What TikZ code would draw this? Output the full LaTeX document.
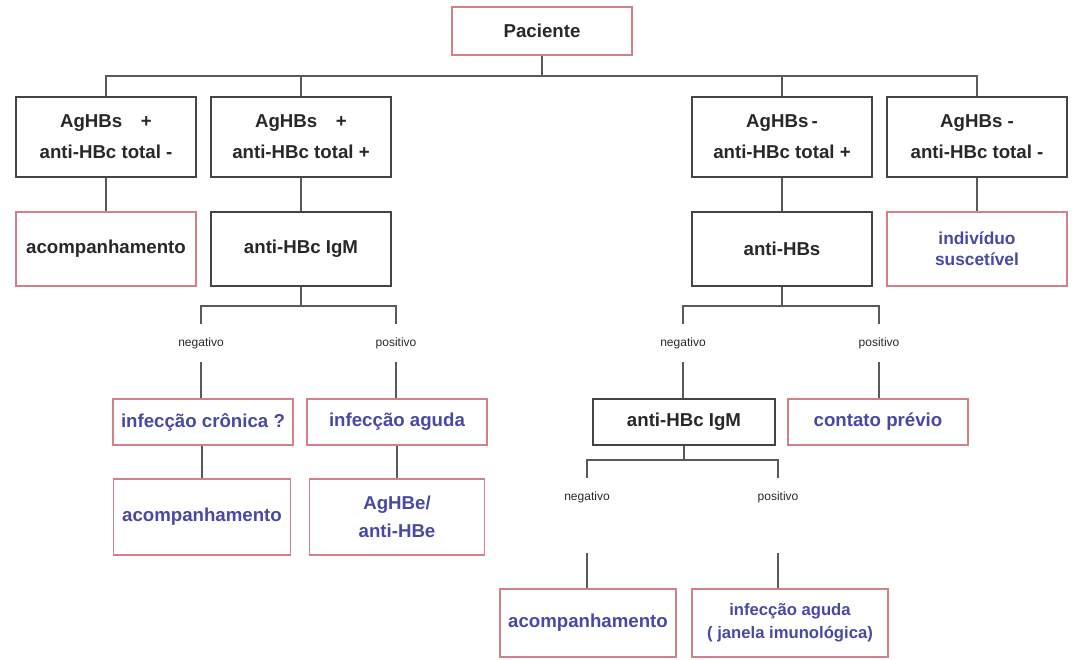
\documentclass[tikz,border=0pt]{standalone}
\usepackage{fontspec}
\setmainfont{Liberation Sans}
\usetikzlibrary{positioning}
\definecolor{boxred}{RGB}{212,128,138}
\definecolor{boxgray}{RGB}{68,68,68}
\definecolor{linegray}{RGB}{90,90,90}
\definecolor{textgray}{RGB}{40,40,40}
\definecolor{textblue}{RGB}{72,72,165}

\begin{document}
\begin{tikzpicture}[
x=0.75pt, y=-0.75pt,
box/.style={draw=boxgray, line width=1.1pt, align=center, minimum width=135pt, minimum height=55.5pt, inner sep=2pt, text=textgray, font=\bfseries\fontsize{14}{17}\selectfont},
redbox/.style={box, draw=boxred},
result/.style={redbox, text=textblue},
tag/.style={minimum height=28.5pt, inner sep=0pt, text=textgray, font=\fontsize{9}{10}\selectfont},
line/.style={draw=linegray, line width=1.1pt}
]
\useasboundingbox (0,0) rectangle (1075,660);

% patient and first split
\node[redbox, minimum height=36pt] (pac) at (542,31) {Paciente};
\coordinate (bus) at (542,76);
\node[box, minimum height=60pt] (agpos1) at (106,137) {AgHBs\quad+\\[6pt]anti-HBc total -};
\node[box, minimum height=60pt] (agpos2) at (301,137) {AgHBs\quad+\\[6pt]anti-HBc total +};
\node[box, minimum height=60pt] (agneg1) at (782,137) {AgHBs\,-\\[6pt]anti-HBc total +};
\node[box, minimum height=60pt] (agneg2) at (977,137) {AgHBs -\\[6pt]anti-HBc total -};

% second level
\node[redbox] (acomp1) at (106,249) {acompanhamento};
\node[box] (igm1) at (301,249) {anti-HBc IgM};
\node[box] (hbs) at (782,249) {anti-HBs};
\node[result, font=\bfseries\fontsize{13}{16}\selectfont] (susc) at (977,249) {indivíduo\\suscetível};

% test results
\node[tag] (neg1) at (201,343) {negativo};
\node[tag] (pos1) at (396,343) {positivo};
\node[tag] (neg2) at (683,343) {negativo};
\node[tag] (pos2) at (879,343) {positivo};

\node[result, minimum height=34.5pt] (cron) at (203,422) {infecção crônica ?};
\node[result, minimum height=34.5pt] (aguda1) at (397,422) {infecção aguda};
\node[box, minimum height=34.5pt, minimum width=136.5pt] (igm2) at (684,422) {anti-HBc IgM};
\node[result, minimum height=34.5pt] (prev) at (878,422) {contato prévio};

\node[result, minimum height=57pt, minimum width=132.75pt] (acomp2) at (202,517) {acompanhamento};
\node[result, minimum height=57pt, minimum width=131.25pt] (hbe) at (397,517) {AgHBe/\\[4pt]anti-HBe};

\node[tag] (neg3) at (587,497) {negativo};
\node[tag] (pos3) at (778,497) {positivo};

\node[result, minimum height=51pt, minimum width=132pt] (acomp3) at (588,623) {acompanhamento};
\node[result, minimum height=51pt, minimum width=147pt, font=\bfseries\fontsize{12.5}{15}\selectfont] (janela) at (790,623) {infecção aguda\\[2pt]( janela imunológica)};

% connectors
\coordinate (fork1) at (301,306);
\coordinate (fork2) at (782,306);
\coordinate (fork3) at (684,460);

\draw[line] (pac) -- (bus);
\draw[line] (agpos1.north) |- (bus) -| (agneg2.north);
\draw[line] (agpos2.north) -- (agpos2.north |- bus);
\draw[line] (agneg1.north) -- (agneg1.north |- bus);

\draw[line] (agpos1) -- (acomp1);
\draw[line] (agpos2) -- (igm1);
\draw[line] (agneg1) -- (hbs);
\draw[line] (agneg2) -- (susc);

\draw[line] (igm1) -- (fork1);
\draw[line] (neg1.north) |- (fork1) -| (pos1.north);
\draw[line] (hbs) -- (fork2);
\draw[line] (neg2.north) |- (fork2) -| (pos2.north);

\draw[line] (neg1.south) -- (neg1.south |- cron.north);
\draw[line] (pos1.south) -- (pos1.south |- aguda1.north);
\draw[line] (neg2.south) -- (neg2.south |- igm2.north);
\draw[line] (pos2.south) -- (pos2.south |- prev.north);

\draw[line] (acomp2.north |- cron.south) -- (acomp2.north);
\draw[line] (aguda1) -- (hbe);

\draw[line] (igm2) -- (fork3);
\draw[line] (neg3.north) |- (fork3) -| (pos3.north);
\draw[line] ([yshift=-27.75pt]neg3.south) -- (neg3.south |- acomp3.north);
\draw[line] ([yshift=-27.75pt]pos3.south) -- (pos3.south |- janela.north);
\end{tikzpicture}
\end{document}
